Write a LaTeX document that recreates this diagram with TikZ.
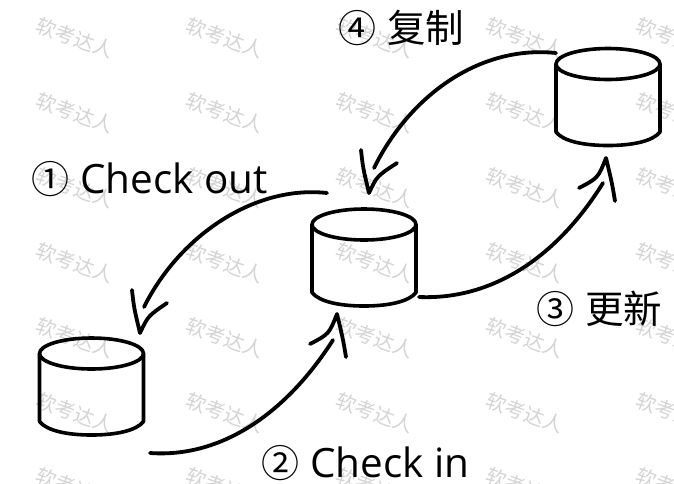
\documentclass[tikz,border=0pt]{standalone}
\usepackage{fontspec}
\setmainfont{Open Sans}
\newfontfamily\cjkfont{Noto Sans CJK SC}
\usetikzlibrary{calc}
\newcommand{\circdigit}[1]{\makebox[51pt][l]{\hspace{2pt}\cjkfont\fontsize{38}{38}\selectfont #1}}
\tikzset{
  dbnode/.style={shape=rectangle,minimum width=106pt,minimum height=99pt,inner sep=0pt,draw=none},
  dbline/.style={draw=black,line width=3.6pt,line join=round,line cap=round},
  flow/.style={draw=black,line width=3.8pt,line cap=round,line join=round},
  lab/.style={anchor=base west,inner sep=0pt,text=black},
  wm/.style={rotate=-20,text=black!17,font=\cjkfont\fontsize{20}{20}\selectfont,inner sep=0pt}
}
\begin{document}
\begin{tikzpicture}[x=1pt,y=-1pt]
\useasboundingbox (0,0) rectangle (674,483);
\fill[white] (0,0) rectangle (674,483);
% watermark
\foreach \cx in {0,...,4}{
  \foreach \cy in {0,...,6}{
    \node[wm] (w\cx\cy) at ({75+150*\cx},{38+75*\cy}) {软考达人};
  }
}
% databases
\node[dbnode] (dbA) at (91.5,386.5) {};
\node[dbnode] (dbB) at (364,257.5) {};
\node[dbnode] (dbC) at (608,97) {};
\foreach \n in {dbA,dbB,dbC}{
  \draw[dbline] ($(\n)+(0,-33)$) ellipse [x radius=52pt,y radius=15.5pt];
  \draw[dbline] ($(\n)+(-52,-33)$) -- ($(\n)+(-52,35)$)
     .. controls ($(\n)+(-45,44)$) and ($(\n)+(-25,48.5)$) .. ($(\n)+(0,48.5)$)
     .. controls ($(\n)+(25,48.5)$) and ($(\n)+(45,44)$) .. ($(\n)+(52,35)$) -- ($(\n)+(52,-33)$);
}
% arrow tips
\coordinate (tipAB) at (140,333);
\coordinate (tipBA) at (337,314);
\coordinate (tipCB) at (369,193);
\coordinate (tipBC) at (606,158);
% 1 Check out
\draw[flow] ($(dbB)+(-37,-64.5)$) .. controls (255,185) and (180,235) .. ($(tipAB)+(4,-26)$);
\draw[flow] ($(tipAB)+(-8,-43)$) .. controls ($(tipAB)+(-6,-25)$) .. (tipAB) .. controls ($(tipAB)+(8,-17)$) .. ($(tipAB)+(27,-30)$);
% 2 Check in
\draw[flow] ($(dbA)+(58.5,66.5)$) .. controls (220,458) and (285,415) .. ($(tipBA)+(-4,26)$);
\draw[flow] ($(tipBA)+(9,43)$) .. controls ($(tipBA)+(6,25)$) .. (tipBA) .. controls ($(tipBA)+(-8,20)$) .. ($(tipBA)+(-27,30)$);
% 3 update
\draw[flow] ($(dbB)+(55,39.5)$) .. controls (490,300) and (555,260) .. ($(tipBC)+(-3,25)$);
\draw[flow] ($(tipBC)+(9,43)$) .. controls ($(tipBC)+(6,25)$) .. (tipBC) .. controls ($(tipBC)+(-8,20)$) .. ($(tipBC)+(-27,30)$);
% 4 replicate
\draw[flow] ($(dbC)+(-52,-44)$) .. controls (480,45) and (410,95) .. ($(tipCB)+(5,-25)$);
\draw[flow] ($(tipCB)+(-8,-43)$) .. controls ($(tipCB)+(-6,-25)$) .. (tipCB) .. controls ($(tipCB)+(8,-17)$) .. ($(tipCB)+(28,-30)$);
% labels
\node[lab] (l1) at (29,193) {\fontsize{40.4}{40}\selectfont\circdigit{①}Check out};
\node[lab] (l2) at (259,477) {\fontsize{40.4}{40}\selectfont\circdigit{②}Check in};
\node[lab] (l3) at (534,323) {\fontsize{38.5}{38}\selectfont\circdigit{③}{\cjkfont 更新}};
\node[lab] (l4) at (336,42) {\fontsize{38.5}{38}\selectfont\circdigit{④}{\cjkfont 复制}};
\end{tikzpicture}
\end{document}
